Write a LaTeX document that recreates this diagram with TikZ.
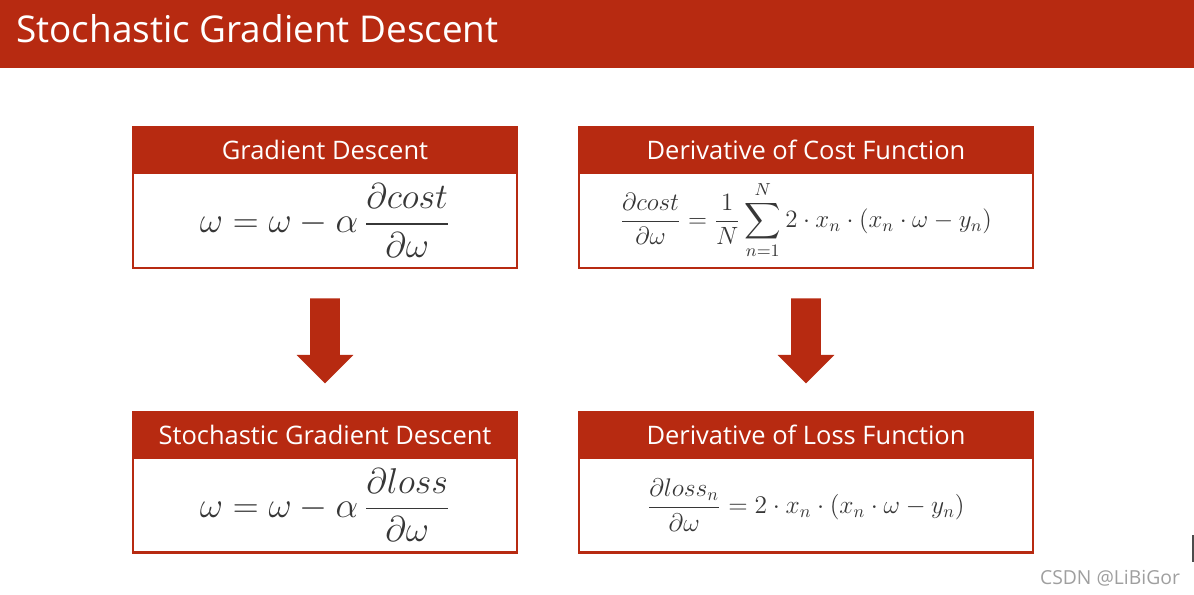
\documentclass[tikz,border=0pt]{standalone}
\usepackage{fix-cm}
\usepackage{amsmath}
\usepackage[no-math]{fontspec}
\setmainfont{Open Sans}
\usepackage{xcolor}
\usepackage{tikz}
\usetikzlibrary{shapes.arrows, positioning, calc}
\definecolor{slidered}{RGB}{183,42,17}
\definecolor{mathgray}{RGB}{55,55,55}

\begin{document}
\begin{tikzpicture}[
    header/.style={rectangle, fill=slidered, draw=slidered, line width=1pt, text=white,
        minimum height=0.92cm, inner sep=0pt, outer sep=0pt, font=\fontsize{14.5}{17}\selectfont},
    body/.style={rectangle, draw=slidered, line width=1.2pt, fill=white,
        minimum height=1.9cm, inner sep=0pt, outer sep=0pt, text=mathgray},
    downarrow/.style={single arrow, fill=slidered, draw=none, inner sep=0.29cm, anchor=tail,
        minimum height=1.7cm, single arrow head extend=0.27cm, single arrow head indent=0pt, rotate=-90}
]
    \useasboundingbox (0,0) rectangle (23.88,11.9);

    % Title bar
    \node[fill=slidered, minimum width=23.88cm, minimum height=1.36cm, inner sep=0pt, anchor=north west] (bar) at (0,11.9) {};
    \node[anchor=base west, inner sep=0pt, text=white, font=\fontsize{21}{25}\selectfont] (title) at (0.32,11.04) {Stochastic Gradient Descent};

    % Gradient Descent
    \node[header, minimum width=7.68cm] (gdhead) at (6.5,8.9) {Gradient Descent};
    \node[body, minimum width=7.68cm, below=0pt of gdhead, font=\fontsize{20.4}{24}\selectfont] (gd)
        {$\displaystyle \omega = \omega - \alpha\,\frac{\partial cost}{\partial \omega}$};

    % Derivative of Cost Function
    \node[header, minimum width=9.08cm] (dcfhead) at (16.12,8.9) {Derivative of Cost Function};
    \node[body, minimum width=9.08cm, below=0pt of dcfhead, font=\fontsize{14.2}{17}\selectfont] (dcf)
        {$\displaystyle \frac{\partial cost}{\partial \omega} = \frac{1}{N}\sum_{n=1}^{N} 2\cdot x_n\cdot(x_n\cdot\omega - y_n)$};

    % Stochastic Gradient Descent
    \node[header, minimum width=7.68cm] (sgdhead) at (6.5,3.21) {Stochastic Gradient Descent};
    \node[body, minimum width=7.68cm, below=0pt of sgdhead, font=\fontsize{20.4}{24}\selectfont] (sgd)
        {$\displaystyle \omega = \omega - \alpha\,\frac{\partial loss}{\partial \omega}$};

    % Derivative of Loss Function
    \node[header, minimum width=9.08cm] (dlfhead) at (16.12,3.21) {Derivative of Loss Function};
    \node[body, minimum width=9.08cm, below=0pt of dlfhead, font=\fontsize{14.5}{17}\selectfont] (dlf)
        {$\displaystyle \frac{\partial loss_n}{\partial \omega} = 2\cdot x_n\cdot(x_n\cdot\omega - y_n)$};

    % Arrows
    \node[downarrow] (gdarrow) at ($(gd.south)+(0,-0.6)$) {};
    \node[downarrow] (dcfarrow) at ($(dcf.south)+(0,-0.6)$) {};

    % Watermark
    \node[text=gray!75, font=\fontsize{11}{13}\selectfont] (mark) at (22.2,0.34) {CSDN @LiBiGor};
    \draw[black!70, line width=1pt] (23.86,0.66) -- (23.86,1.2);
\end{tikzpicture}
\end{document}
